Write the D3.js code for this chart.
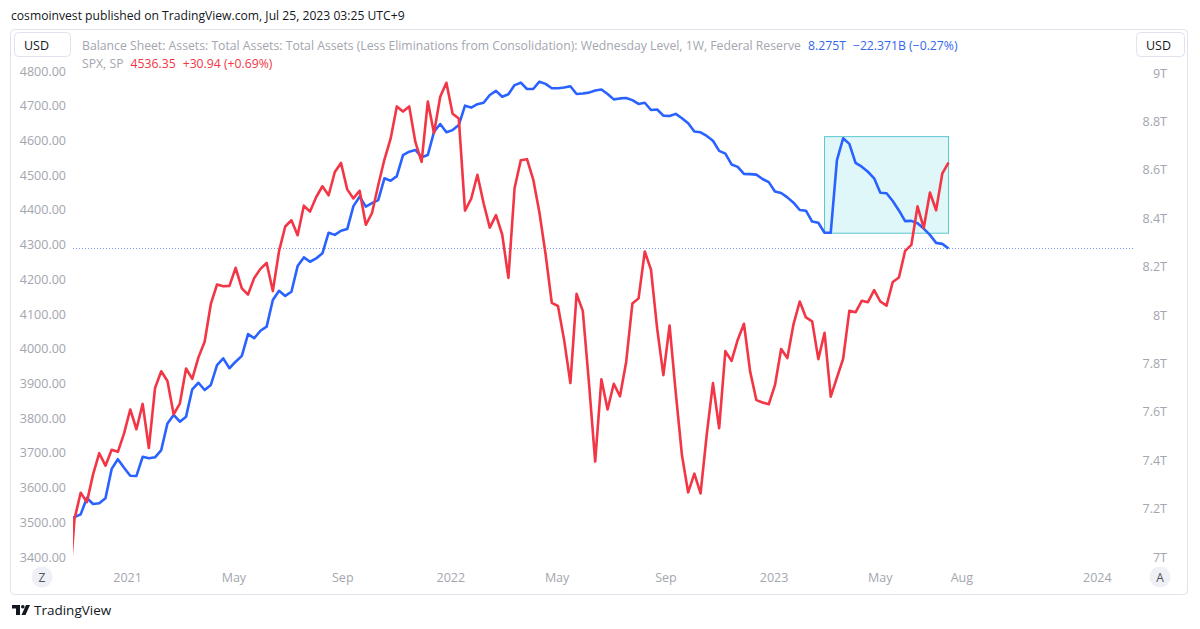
<!DOCTYPE html>
<html><head><meta charset="utf-8">
<script src="https://cdn.jsdelivr.net/npm/d3@7"></script>
<style>html,body{margin:0;padding:0;background:#fff}svg{display:block}</style>
</head><body>
<svg id="chart" width="1200" height="629"></svg>
<script>
// ---------------- DATA ----------------
const firstWeek = "2020-10-26"; // Monday of the first weekly bar

// S&P 500 weekly closes (SPX, SP)
const spxClose = [
 3270, 3509, 3585, 3558, 3638, 3699, 3663, 3709, 3703, 3756,
 3825, 3768, 3841, 3714, 3887, 3935, 3907, 3811, 3842, 3943,
 3913, 3975, 4020, 4129, 4185, 4180, 4181, 4233, 4174, 4156,
 4204, 4230, 4247, 4166, 4281, 4352, 4370, 4327, 4412, 4395,
 4437, 4468, 4442, 4509, 4535, 4459, 4433, 4455, 4357, 4391,
 4471, 4545, 4605, 4698, 4683, 4698, 4595, 4538, 4712, 4621,
 4726, 4766, 4677, 4663, 4398, 4432, 4501, 4419, 4349, 4385,
 4329, 4204, 4463, 4543, 4546, 4488, 4393, 4272, 4132, 4123,
 4024, 3901, 4158, 4109, 3901, 3675, 3912, 3825, 3899, 3863,
 3962, 4130, 4145, 4280, 4228, 4058, 3924, 4067, 3873, 3693,
 3586, 3640, 3583, 3753, 3901, 3771, 3993, 3965, 4026, 4072,
 3934, 3852, 3845, 3840, 3895, 3999, 3973, 4071, 4136, 4090,
 4079, 3970, 4046, 3862, 3917, 3971, 4109, 4105, 4138, 4134,
 4169, 4136, 4124, 4192, 4205, 4282, 4299, 4410, 4348, 4450,
 4399, 4505, 4536
];

// Fed total assets, Wednesday level (trillions USD)
const fedAssets = [
 7.153, 7.165, 7.176, 7.244, 7.219, 7.222, 7.243, 7.364, 7.404, 7.369,
 7.336, 7.335, 7.414, 7.408, 7.412, 7.442, 7.552, 7.587, 7.559, 7.580,
 7.693, 7.720, 7.690, 7.711, 7.793, 7.821, 7.780, 7.807, 7.831, 7.921,
 7.904, 7.935, 7.952, 8.062, 8.100, 8.079, 8.096, 8.202, 8.238, 8.220,
 8.234, 8.255, 8.340, 8.331, 8.348, 8.355, 8.450, 8.489, 8.448, 8.462,
 8.475, 8.565, 8.555, 8.574, 8.661, 8.675, 8.682, 8.652, 8.661, 8.757,
 8.789, 8.755, 8.764, 8.785, 8.865, 8.857, 8.871, 8.877, 8.909, 8.926,
 8.902, 8.912, 8.950, 8.960, 8.934, 8.934, 8.964, 8.955, 8.937, 8.937,
 8.940, 8.945, 8.913, 8.915, 8.919, 8.928, 8.932, 8.913, 8.891, 8.895,
 8.897, 8.888, 8.872, 8.877, 8.847, 8.849, 8.824, 8.822, 8.831, 8.813,
 8.792, 8.758, 8.755, 8.740, 8.720, 8.678, 8.667, 8.622, 8.612, 8.583,
 8.582, 8.580, 8.562, 8.549, 8.510, 8.504, 8.486, 8.464, 8.434, 8.431,
 8.386, 8.381, 8.340, 8.340, 8.640, 8.730, 8.707, 8.629, 8.613, 8.592,
 8.565, 8.505, 8.503, 8.471, 8.432, 8.388, 8.389, 8.379, 8.357, 8.331,
 8.298, 8.294, 8.275
];

const leftTicks = [3400,3500,3600,3700,3800,3900,4000,4100,4200,4300,4400,4500,4600,4700,4800];
const rightTicks = [7,7.2,7.4,7.6,7.8,8,8.2,8.4,8.6,8.8,9];
const rightTickLabels = ["7T","7.2T","7.4T","7.6T","7.8T","8T","8.2T","8.4T","8.6T","8.8T","9T"];
const timeTickDates = ["2021-01-01","2021-05-01","2021-09-01","2022-01-01","2022-05-01","2022-09-01","2023-01-01","2023-05-01","2023-08-01","2024-01-01"];
const timeTickLabels = ["2021","May","Sep","2022","May","Sep","2023","May","Aug","2024"];

// highlight rectangle (drawn on the Fed-assets scale)
const boxDates = ["2023-02-27","2023-07-17"];
const boxValues = [8.338, 8.737];
const lastFed = 8.275;

const headerText = "cosmoinvest published on TradingView.com, Jul 25, 2023 03:25 UTC+9";
const fedTitle = "Balance Sheet: Assets: Total Assets: Total Assets (Less Eliminations from Consolidation): Wednesday Level, 1W, Federal Reserve";
const fedValue = "8.275T";
const fedChange = "\u221222.371B (\u22120.27%)";
const spxTitle = "SPX, SP";
const spxValue = "4536.35";
const spxChange = "+30.94 (+0.69%)";

// ---------------- DRAW ----------------
const FONT = "'Open Sans', 'Liberation Sans', sans-serif";
const parse = d3.timeParse("%Y-%m-%d");
const start = parse(firstWeek);
const dates = spxClose.map((_, i) => d3.timeDay.offset(start, 7 * i));

const svg = d3.select("#chart").style("font-family", FONT);

const x = d3.scaleTime().domain([parse("2021-01-01"), parse("2024-01-01")]).range([127.6, 1097.3]);
const yL = d3.scaleLinear().domain([3400, 4800]).range([557, 71]);
const yR = d3.scaleLinear().domain([7, 9]).range([557, 73]);

const plot = {l: 73, r: 1134, t: 31, b: 566};

// frame
svg.append("rect").attr("x", 10.5).attr("y", 29.5).attr("width", 1177).attr("height", 565)
  .attr("rx", 4).attr("fill", "none").attr("stroke", "#e0e3eb").attr("stroke-width", 1);

function fit(sel, w, base) {
  sel.attr("font-size", base);
  const l = sel.node().getComputedTextLength();
  const s = base * w / l;
  sel.attr("font-size", s);
  return s;
}
// header
const hdr = svg.append("text").attr("x", 11).attr("y", 15).attr("dominant-baseline", "central")
  .attr("fill", "#131722").text(headerText);
fit(hdr, 394, 14);

// clip
svg.append("defs").append("clipPath").attr("id", "clip")
  .append("rect").attr("x", plot.l).attr("y", plot.t).attr("width", plot.r - plot.l).attr("height", plot.b - plot.t);
const g = svg.append("g").attr("clip-path", "url(#clip)");

// rectangle annotation
const bx0 = x(parse(boxDates[0])), bx1 = x(parse(boxDates[1]));
const by0 = yR(boxValues[1]), by1 = yR(boxValues[0]);
g.append("rect").attr("x", bx0).attr("y", by0).attr("width", bx1 - bx0).attr("height", by1 - by0)
  .attr("fill", "rgba(0,188,212,0.12)").attr("stroke", "#5cc6cf").attr("stroke-width", 1);

// price line for last fed value
const py = Math.round(yR(lastFed)) + 0.5;
g.append("line").attr("x1", plot.l).attr("x2", plot.r).attr("y1", py).attr("y2", py)
  .attr("stroke", "#7f96f5").attr("stroke-width", 1).attr("stroke-dasharray", "1,2");

// lines
const fedLine = d3.line().x((d, i) => x(dates[i])).y(d => yR(d));
const spxLine = d3.line().x((d, i) => x(dates[i])).y(d => yL(d));
g.append("path").datum(fedAssets).attr("d", fedLine).attr("fill", "none")
  .attr("stroke", "#2962ff").attr("stroke-width", 2.6).attr("stroke-linejoin", "round");
g.append("path").datum(spxClose).attr("d", spxLine).attr("fill", "none")
  .attr("stroke", "#f23645").attr("stroke-width", 2.6).attr("stroke-linejoin", "round");

// left axis
const axisColor = "#a3a6af";
svg.append("g").selectAll("text").data(leftTicks).join("text")
  .attr("x", 66).attr("y", d => yL(d)).attr("text-anchor", "end").attr("dominant-baseline", "central")
  .attr("fill", axisColor).attr("font-size", 12.5).text(d => d3.format(".2f")(d));

// right axis
svg.append("g").selectAll("text").data(rightTicks).join("text")
  .attr("x", 1167).attr("y", d => yR(d)).attr("text-anchor", "end").attr("dominant-baseline", "central")
  .attr("fill", axisColor).attr("font-size", 12.5).text((d, i) => rightTickLabels[i]);

// time axis
svg.append("g").selectAll("text").data(timeTickDates).join("text")
  .attr("x", d => x(parse(d))).attr("y", 577).attr("text-anchor", "middle").attr("dominant-baseline", "central")
  .attr("fill", axisColor).attr("font-size", 12.5).text((d, i) => timeTickLabels[i]);

// USD boxes
function usdBox(x0, w, tx) {
  svg.append("rect").attr("x", x0 + 0.5).attr("y", 32.5).attr("width", w).attr("height", 24).attr("rx", 4)
    .attr("fill", "#fff").attr("stroke", "#e0e3eb");
  svg.append("text").attr("x", tx).attr("y", 45).attr("dominant-baseline", "central")
    .attr("fill", "#131722").attr("font-size", 12.5).text("USD");
}
usdBox(14, 56, 24);
usdBox(1136, 48, 1146);

// Z / A buttons
function circBtn(cx, label) {
  svg.append("circle").attr("cx", cx).attr("cy", 577).attr("r", 10.5).attr("fill", "#eef0f5");
  svg.append("text").attr("x", cx).attr("y", 577).attr("text-anchor", "middle").attr("dominant-baseline", "central")
    .attr("fill", "#50535e").attr("font-size", 12).text(label);
}
circBtn(42, "Z");
circBtn(1160, "A");

// legend (segments chained one after another)
const legGray = "#a3a6af";
const t1 = svg.append("text").attr("x", 82).attr("y", 45).attr("dominant-baseline", "central").attr("fill", legGray).text(fedTitle);
const ls = fit(t1, 719, 13);
function chain(items, x0, y, gap) {
  let cx = x0;
  items.forEach(([txt, col]) => {
    const t = svg.append("text").attr("x", cx).attr("y", y).attr("dominant-baseline", "central")
      .attr("fill", col).attr("font-size", ls).text(txt);
    cx += t.node().getComputedTextLength() + gap;
  });
}
chain([[fedValue, "#3366f0"], [fedChange, "#3366f0"]], 82 + 719 + 7, 45, 7);
chain([[spxTitle, legGray], [spxValue, "#f23645"], [spxChange, "#f23645"]], 82, 63, 7);

// TradingView logo
const logo = svg.append("g").attr("fill", "#131722");
logo.append("rect").attr("x", 12).attr("y", 605).attr("width", 8).attr("height", 3.5);
logo.append("rect").attr("x", 16).attr("y", 605).attr("width", 4).attr("height", 10);
logo.append("circle").attr("cx", 22.8).attr("cy", 606.8).attr("r", 1.8);
logo.append("path").attr("d", "M26,605 L30,605 L25.5,615 L21.5,615 Z");
svg.append("text").attr("x", 34).attr("y", 610).attr("dominant-baseline", "central")
  .attr("fill", "#131722").attr("font-size", 13.5).text("TradingView");
</script>
</body></html>
